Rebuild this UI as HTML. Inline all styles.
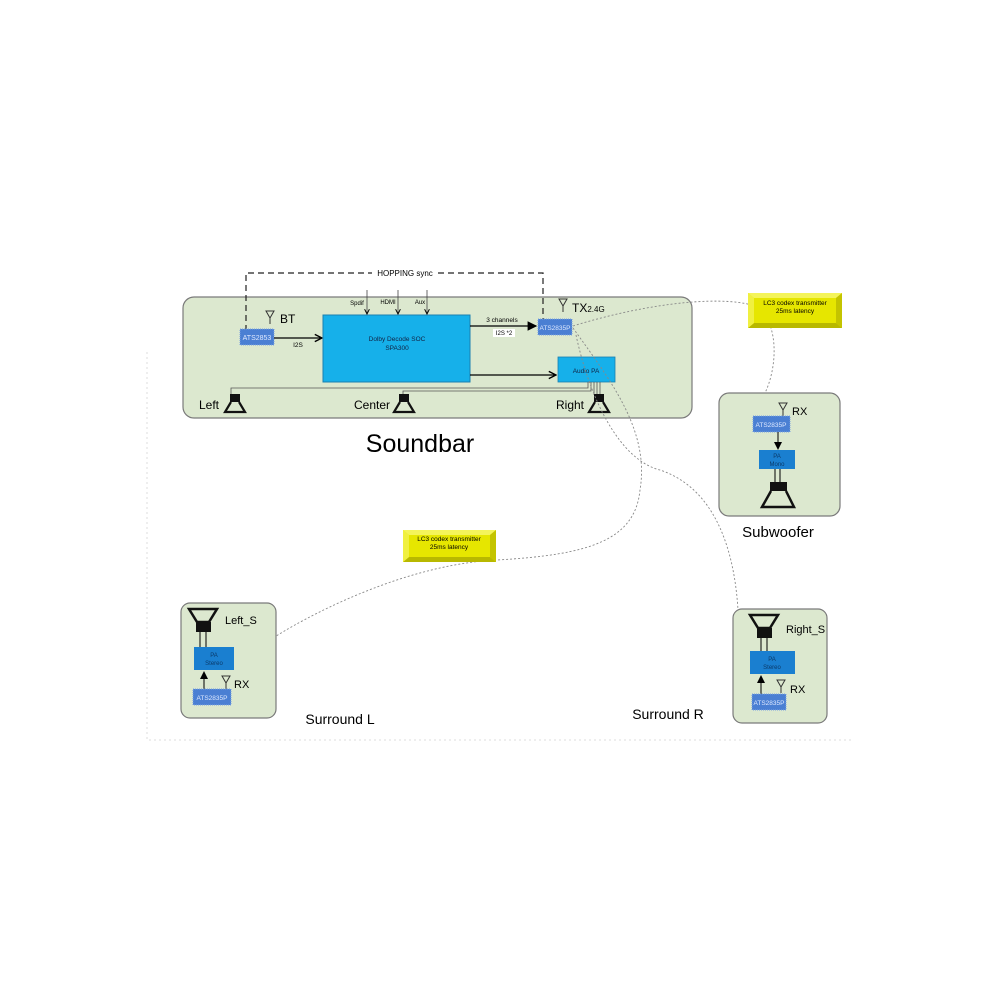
<!DOCTYPE html>
<html><head><meta charset="utf-8"><style>
html,body{margin:0;padding:0;background:#fff;}
svg{display:block;font-family:"Liberation Sans",sans-serif;}
</style></head><body>
<svg width="1000" height="1000" viewBox="0 0 1000 1000" xmlns="http://www.w3.org/2000/svg">
<defs>
<marker id="ah" markerWidth="8" markerHeight="8" refX="7" refY="4" orient="auto"><path d="M0,0 L8,4 L0,8 z" fill="#000"/></marker>
<marker id="ao" markerWidth="8" markerHeight="8" refX="7" refY="4" orient="auto"><path d="M1,1 L7,4 L1,7" fill="none" stroke="#000" stroke-width="1.2"/></marker>
<g id="spk"><rect x="-5" y="0" width="10" height="8" fill="#111"/><path d="M-4,8 L-10,18 L10,18 L4,8" fill="none" stroke="#111" stroke-width="2.2"/></g>
<g id="ant"><path d="M-4,0 L4,0 L0,7 z M0,7 V13" fill="none" stroke="#333" stroke-width="1"/></g>
</defs>
<path d="M147,352 V740 H852" fill="none" stroke="#ddd" stroke-width="1" stroke-dasharray="2,3"/>

<rect x="183" y="297" width="509" height="121" rx="11" fill="#dce8cf" stroke="#7a7a7a" stroke-width="1.2"/>
<path d="M246,331 V273 H372 M438,273 H543 V320" fill="none" stroke="#222" stroke-width="1.2" stroke-dasharray="6,4"/>
<rect x="374" y="268" width="62" height="10" fill="#fff"/>
<text x="405" y="276" font-size="8" text-anchor="middle">HOPPING sync</text>

<rect x="240" y="329" width="34" height="16" fill="#4a7fd3" stroke="#7aa2e0" stroke-dasharray="1,1"/>
<text x="257" y="340" font-size="7" fill="#dfe9ff" text-anchor="middle">ATS2853</text>
<use href="#ant" x="270" y="311"/>
<text x="280" y="323" font-size="12">BT</text>
<line x1="274" y1="338" x2="322" y2="338" stroke="#000" stroke-width="1.2" marker-end="url(#ao)"/>
<text x="298" y="347" font-size="6.5" text-anchor="middle">I2S</text>

<rect x="323" y="315" width="147" height="67" fill="#16b0ea" stroke="#1a7fb0" stroke-width="1"/>
<text x="397" y="341" font-size="6.5" text-anchor="middle" fill="#124">Dolby Decode SOC</text>
<text x="397" y="350" font-size="6.5" text-anchor="middle" fill="#124">SPA300</text>
<line x1="367" y1="290" x2="367" y2="314" stroke="#444" stroke-width="0.8" marker-end="url(#ao)"/>
<line x1="398" y1="290" x2="398" y2="314" stroke="#444" stroke-width="0.8" marker-end="url(#ao)"/>
<line x1="427" y1="290" x2="427" y2="314" stroke="#444" stroke-width="0.8" marker-end="url(#ao)"/>
<text x="357" y="305" font-size="6" text-anchor="middle">Spdif</text>
<text x="388" y="304" font-size="6" text-anchor="middle">HDMI</text>
<text x="420" y="304" font-size="6" text-anchor="middle">Aux</text>

<line x1="470" y1="326" x2="536" y2="326" stroke="#000" stroke-width="1.2" marker-end="url(#ah)"/>
<text x="502" y="322" font-size="6.5" text-anchor="middle">3 channels</text>
<rect x="493" y="329" width="22" height="8" fill="#fff"/>
<text x="504" y="335" font-size="6" text-anchor="middle">I2S *2</text>
<rect x="538" y="319" width="34" height="16" fill="#4a7fd3" stroke="#7aa2e0" stroke-dasharray="1,1"/>
<text x="555" y="330" font-size="6.5" fill="#dfe9ff" text-anchor="middle">ATS2835P</text>
<use href="#ant" x="563" y="299"/>
<text x="572" y="312" font-size="12">TX<tspan font-size="8">2.4G</tspan></text>

<rect x="558" y="357" width="57" height="25" fill="#16b0ea" stroke="#1a7fb0" stroke-width="0.8"/>
<text x="586" y="373" font-size="6.5" text-anchor="middle" fill="#124">Audio PA</text>
<line x1="470" y1="375" x2="556" y2="375" stroke="#000" stroke-width="1.2" marker-end="url(#ao)"/>
<path d="M588,382 V388 H231 V395 M591,382 V391 H403 V395 M594,382 V395 M597,382 V395 M600,382 V395" fill="none" stroke="#555" stroke-width="0.8"/>
<use href="#spk" x="235" y="394"/>
<use href="#spk" x="404" y="394"/>
<use href="#spk" x="599" y="394"/>
<text x="199" y="409" font-size="12">Left</text>
<text x="354" y="409" font-size="12">Center</text>
<text x="556" y="409" font-size="12">Right</text>
<text x="420" y="452" font-size="25" text-anchor="middle">Soundbar</text>

<g fill="none" stroke="#888" stroke-width="0.9" stroke-dasharray="2,2">
<path d="M573,326 C650,302 730,294 760,308 C780,330 776,370 765,393"/>
<path d="M573,328 C610,380 650,430 640,490 C635,540 590,555 496,560 C400,565 300,620 270,640"/>
<path d="M576,335 C590,400 620,460 660,470 C720,490 735,560 738,610"/>
</g>

<g>
<rect x="748" y="293" width="94" height="35" fill="#e6e600"/>
<path d="M748,293 H842 L836,298 H754 z" fill="#f4f45a"/><path d="M748,328 H842 L836,323 H754 z" fill="#b8b800"/>
<path d="M748,293 V328 L754,323 V298 z" fill="#f0f040"/><path d="M842,293 V328 L836,323 V298 z" fill="#c4c400"/>
<text x="795" y="305" font-size="6.5" text-anchor="middle">LC3 codex transmitter</text>
<text x="795" y="313" font-size="6.5" text-anchor="middle">25ms latency</text>
</g>
<g>
<rect x="403" y="530" width="93" height="32" fill="#e6e600"/>
<path d="M403,530 H496 L490,535 H409 z" fill="#f4f45a"/><path d="M403,562 H496 L490,557 H409 z" fill="#b8b800"/>
<path d="M403,530 V562 L409,557 V535 z" fill="#f0f040"/><path d="M496,530 V562 L490,557 V535 z" fill="#c4c400"/>
<text x="449" y="541" font-size="6.5" text-anchor="middle">LC3 codex transmitter</text>
<text x="449" y="549" font-size="6.5" text-anchor="middle">25ms latency</text>
</g>

<rect x="719" y="393" width="121" height="123" rx="10" fill="#dce8cf" stroke="#7a7a7a" stroke-width="1.2"/>
<use href="#ant" x="783" y="403"/>
<text x="792" y="415" font-size="11">RX</text>
<rect x="753" y="416" width="37" height="16" fill="#4a7fd3" stroke="#7aa2e0" stroke-dasharray="1,1"/>
<text x="771" y="427" font-size="6.5" fill="#dfe9ff" text-anchor="middle">ATS2835P</text>
<line x1="778" y1="432" x2="778" y2="449" stroke="#000" stroke-width="1" marker-end="url(#ah)"/>
<rect x="759" y="450" width="36" height="19" fill="#1a7fd0"/>
<text x="777" y="458" font-size="6" fill="#0a3a6a" text-anchor="middle">PA</text>
<text x="777" y="466" font-size="6" fill="#0a3a6a" text-anchor="middle">Mono</text>
<path d="M775,469 V483 M780,469 V483" stroke="#000" stroke-width="1"/>
<rect x="770" y="482" width="17" height="9" fill="#111"/>
<path d="M771,491 L762,507 L794,507 L786,491" fill="none" stroke="#111" stroke-width="2.5"/>
<text x="778" y="537" font-size="15" text-anchor="middle">Subwoofer</text>

<rect x="181" y="603" width="95" height="115" rx="9" fill="#dce8cf" stroke="#7a7a7a" stroke-width="1.2"/>
<path d="M189,609 L217,609 L209,622 L197,622 z" fill="none" stroke="#111" stroke-width="2.5"/>
<rect x="196" y="622" width="15" height="10" fill="#111"/>
<path d="M200,632 V647 M206,632 V647" stroke="#000" stroke-width="1"/>
<text x="225" y="624" font-size="11">Left_S</text>
<rect x="194" y="647" width="40" height="23" fill="#1a7fd0"/>
<text x="214" y="657" font-size="6" fill="#0a3a6a" text-anchor="middle">PA</text>
<text x="214" y="665" font-size="6" fill="#0a3a6a" text-anchor="middle">Stereo</text>
<line x1="204" y1="689" x2="204" y2="672" stroke="#000" stroke-width="1" marker-end="url(#ah)"/>
<use href="#ant" x="226" y="676"/>
<text x="234" y="688" font-size="11">RX</text>
<rect x="193" y="689" width="38" height="16" fill="#4a7fd3" stroke="#7aa2e0" stroke-dasharray="1,1"/>
<text x="212" y="700" font-size="6.5" fill="#dfe9ff" text-anchor="middle">ATS2835P</text>
<text x="340" y="724" font-size="14" text-anchor="middle">Surround L</text>

<rect x="733" y="609" width="94" height="114" rx="9" fill="#dce8cf" stroke="#7a7a7a" stroke-width="1.2"/>
<path d="M750,615 L778,615 L770,628 L758,628 z" fill="none" stroke="#111" stroke-width="2.5"/>
<rect x="757" y="628" width="15" height="10" fill="#111"/>
<path d="M761,638 V651 M767,638 V651" stroke="#000" stroke-width="1"/>
<text x="786" y="633" font-size="11">Right_S</text>
<rect x="750" y="651" width="45" height="23" fill="#1a7fd0"/>
<text x="772" y="661" font-size="6" fill="#0a3a6a" text-anchor="middle">PA</text>
<text x="772" y="669" font-size="6" fill="#0a3a6a" text-anchor="middle">Stereo</text>
<line x1="761" y1="694" x2="761" y2="676" stroke="#000" stroke-width="1" marker-end="url(#ah)"/>
<use href="#ant" x="781" y="680"/>
<text x="790" y="693" font-size="11">RX</text>
<rect x="752" y="694" width="34" height="16" fill="#4a7fd3" stroke="#7aa2e0" stroke-dasharray="1,1"/>
<text x="769" y="705" font-size="6.5" fill="#dfe9ff" text-anchor="middle">ATS2835P</text>
<text x="668" y="719" font-size="14" text-anchor="middle">Surround R</text>
</svg>
</body></html>
